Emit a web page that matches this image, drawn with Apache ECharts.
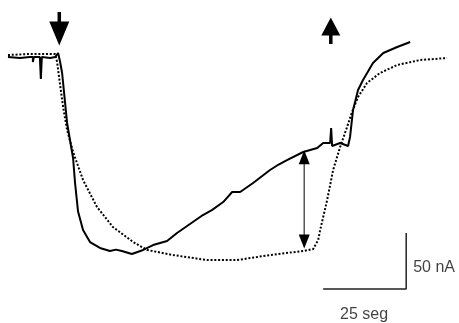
<!DOCTYPE html>
<html>
<head>
<meta charset="utf-8">
<script src="https://cdn.jsdelivr.net/npm/echarts@6/dist/echarts.min.js"></script>
<style>
html, body { margin: 0; padding: 0; background: #fff; }
#chart { width: 459px; height: 323px; }
</style>
</head>
<body>
<div id="chart"></div>
<script>
// time in s, current in nA (relative to baseline)
var solidTrace = [
    [0, 0], [3.6, -0.9], [6.6, 0], [7.5, 0], [7.5, -4.5], [7.8, 0], [9.6, 0],
    [9.9, -19.6], [10.2, 0], [12.7, -0.9], [14.2, 0], [15.1, 3.6], [15.7, -4.5],
    [16.3, -14.3], [17.8, -58.9], [19.6, -90.2], [20.2, -112.5], [21.1, -138],
    [22.6, -154.5], [24.7, -165.2], [27.7, -170.5], [30.7, -173.2], [32.5, -172],
    [34.3, -173.2], [37.3, -175.9], [40.7, -172.3], [43.7, -167.9], [47.9, -164.3],
    [50.9, -157.1], [54.8, -149.1], [58.7, -141.1], [61.5, -136.5], [64.8, -129.5],
    [67.5, -120.5], [69.9, -120.5], [73.8, -112.5], [78.9, -100.9], [81.5, -96],
    [84.0, -92], [88.9, -84.8], [93.1, -81.3], [94.9, -76.8], [97.0, -76.8],
    [97.3, -63.4], [97.6, -79.5], [100, -76.8], [102.4, -79.5], [103.0, -71.4],
    [103.9, -47.3], [105.4, -29.5], [106.9, -20.5], [109.9, -5.4], [113, 3.6],
    [117.2, 8.9], [121.1, 13.4]
];
var dottedTrace = [
    [0, 1.8], [6.6, 2.7], [14.2, 2.7], [14.8, -4.5], [15.7, -25], [16.6, -44.6],
    [17.8, -65.2], [19.6, -84.8], [22.6, -109.8], [26.8, -133.9], [31.6, -151.8],
    [37.7, -165.2], [41.9, -172.3], [49.7, -176.8], [59.9, -181.3], [69.0, -181.3],
    [78.9, -176.8], [88.9, -173.2], [91.9, -171.4], [93.4, -163.4], [94.0, -154.5],
    [96.1, -127.7], [97.9, -100.9], [100, -80.4], [102.1, -62.5], [103.6, -49.1],
    [105.4, -35.7], [108.1, -23.2], [112, -14.3], [117.2, -7.1], [124.1, -2.7],
    [132.2, -0.9]
];
var downShaft = [[15.45, 40.2], [15.45, 27]];
var downHead = [[15.45, 21.0]];
var upShaft = [[97.2, 22], [97.2, 11.6]];
var upHead = [[97.2, 27.2]];
var doubleShaft = [[89.2, -89.5], [89.2, -164.7]];
var doubleHeadTop = [[89.2, -89.5]];
var doubleHeadBottom = [[89.2, -164.7]];
var scaleBar = [[94.9, -207.1], [119.9, -207.1], [119.9, -157.1]];
var scaleLabels = [
    { value: [119.9, -188.4], text: '50 nA', pos: 'right' },
    { value: [107.2, -230.4], text: '25 seg', pos: 'inside' }
];

function lineSeries(data, color, width, type) {
    return {
        type: 'line',
        data: data,
        symbol: 'none',
        silent: true,
        lineStyle: { color: color, width: width, type: type || 'solid' },
        z: 3
    };
}

function headSeries(data, size, rotate) {
    return {
        type: 'scatter',
        data: data,
        symbol: 'triangle',
        symbolSize: size,
        symbolRotate: rotate,
        itemStyle: { color: '#000', opacity: 1 },
        silent: true,
        z: 5
    };
}

var chart = echarts.init(document.getElementById('chart'));
chart.setOption({
    animation: false,
    backgroundColor: '#fff',
    grid: { left: 0, right: 0, top: 0, bottom: 0 },
    xAxis: { type: 'value', min: -2.4, max: 135.8, show: false },
    yAxis: { type: 'value', min: -237.5, max: 50.9, show: false },
    series: [
        lineSeries(dottedTrace, '#000', 2, [2, 1.8]),
        lineSeries(solidTrace, '#000', 2),
        lineSeries(downShaft, '#000', 3.5),
        headSeries(downHead, [20, 24], 180),
        lineSeries(upShaft, '#000', 3.5),
        headSeries(upHead, [19, 18], 0),
        lineSeries(doubleShaft, '#555', 1.5),
        headSeries(doubleHeadTop, [11, 14], 0),
        headSeries(doubleHeadBottom, [11, 14], 180),
        lineSeries(scaleBar, '#222', 1.5),
        {
            type: 'scatter',
            symbolSize: 0,
            silent: true,
            data: scaleLabels.map(function (d) {
                return {
                    value: d.value,
                    label: {
                        show: true,
                        position: d.pos,
                        distance: 7,
                        formatter: d.text,
                        fontFamily: 'Liberation Sans, Arial, sans-serif',
                        fontSize: 16,
                        color: '#111'
                    }
                };
            })
        }
    ]
});
</script>
</body>
</html>
